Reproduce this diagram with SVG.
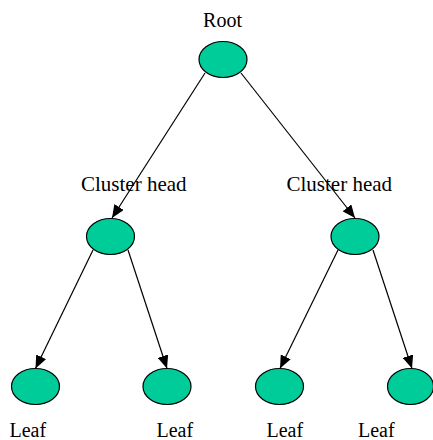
<svg xmlns="http://www.w3.org/2000/svg" width="433" height="440" viewBox="0 0 433 440">
  <style>
    .node { fill: #00cc99; stroke: #000; stroke-width: 1.2; }
    .label { font-family: "Liberation Serif", "Times New Roman", serif; fill: #000; }
    .edge { stroke: #000; stroke-width: 1.2; fill: none; marker-end: url(#arrow); }
  </style>
  <defs>
    <marker id="arrow" viewBox="0 0 13 11" refX="13" refY="5.5" markerWidth="13" markerHeight="11" markerUnits="userSpaceOnUse" orient="auto">
      <path d="M0,0 L13,5.5 L0,11 Z" fill="#000"/>
    </marker>
  </defs>

  <rect width="433" height="440" fill="#fff"/>

  <g id="connectors">
    <line class="edge" x1="205" y1="73" x2="112" y2="218"/>
    <line class="edge" x1="241" y1="73" x2="355" y2="218"/>
    <line class="edge" x1="93" y1="250" x2="35.5" y2="368.5"/>
    <line class="edge" x1="128" y1="250" x2="167" y2="368.5"/>
    <line class="edge" x1="338" y1="250" x2="280" y2="368.5"/>
    <line class="edge" x1="373" y1="250" x2="412" y2="368.5"/>
  </g>

  <g id="root">
    <ellipse class="node" cx="223" cy="59.5" rx="24" ry="18"/>
    <text class="label" x="222.5" y="27" font-size="20" text-anchor="middle">Root</text>
  </g>

  <g id="cluster-head-left">
    <ellipse class="node" cx="110.5" cy="236.5" rx="24" ry="18"/>
    <text class="label" x="81" y="191" font-size="21">Cluster head</text>
  </g>

  <g id="cluster-head-right">
    <ellipse class="node" cx="355" cy="236.5" rx="24" ry="18"/>
    <text class="label" x="286.5" y="191" font-size="21">Cluster head</text>
  </g>

  <g id="leaf-1">
    <ellipse class="node" cx="35.5" cy="386.5" rx="24" ry="18"/>
    <text class="label" x="9.5" y="437" font-size="20">Leaf</text>
  </g>

  <g id="leaf-2">
    <ellipse class="node" cx="167" cy="386.5" rx="24" ry="18"/>
    <text class="label" x="156.5" y="437" font-size="20">Leaf</text>
  </g>

  <g id="leaf-3">
    <ellipse class="node" cx="279.5" cy="386.5" rx="24" ry="18"/>
    <text class="label" x="266.5" y="437" font-size="20">Leaf</text>
  </g>

  <g id="leaf-4">
    <ellipse class="node" cx="410.5" cy="386.5" rx="23" ry="18"/>
    <text class="label" x="358" y="437" font-size="20">Leaf</text>
  </g>
</svg>
